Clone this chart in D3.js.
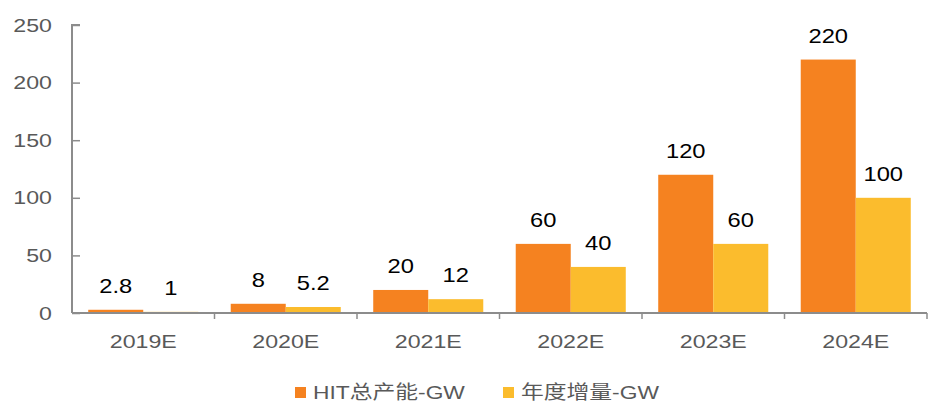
<!DOCTYPE html>
<html><head><meta charset="utf-8">
<script src="https://cdn.jsdelivr.net/npm/d3@7"></script>
<style>body{margin:0;background:#fff}svg{display:block}</style>
</head><body>
<svg id="c" width="929" height="405"></svg>
<script>
const categories = ["2019E","2020E","2021E","2022E","2023E","2024E"];
const seriesNames = ["HIT总产能-GW","年度增量-GW"];
const hitTotal = [2.8, 8, 20, 60, 120, 220];
const annualAdd = [1, 5.2, 12, 40, 60, 100];
const yTicks = [0, 50, 100, 150, 200, 250];
const labels = [["2.8","8","20","60","120","220"],["1","5.2","12","40","60","100"]];
const colors = ["#F58220", "#FBBC2D"];

const svg = d3.select("#c");
const m = {l:72, r:2};
const W = 929;
const x = d3.scaleBand().domain(categories).range([m.l, W - m.r]).paddingInner(0).paddingOuter(0);
const y = d3.scaleLinear().domain([0, 250]).range([313, 25]);
const x1 = d3.scaleBand().domain([0,1]).range([0, x.bandwidth()]).paddingInner(0).paddingOuter(0.295);
const font = "'Liberation Sans', Arial, sans-serif";
const axisColor = "#8C8C8C";

function stretchText(sel, px, py, sx) {
  sel.attr("transform", (d,i) => `translate(${px(d,i)},${py(d,i)}) scale(${sx},1)`);
}

// bars
[hitTotal, annualAdd].forEach((vals, s) => {
  svg.append("g").selectAll("rect").data(vals).join("rect")
    .attr("x", (d,i) => x(categories[i]) + x1(s))
    .attr("width", x1.bandwidth())
    .attr("y", d => y(d))
    .attr("height", d => y(0) - y(d))
    .attr("fill", colors[s]);
  const t = svg.append("g").selectAll("text").data(vals).join("text")
    .attr("text-anchor", "middle")
    .attr("font-family", font).attr("font-size", 21).attr("fill", "#000")
    .text((d,i) => labels[s][i]);
  stretchText(t, (d,i) => x(categories[i]) + x1(s) + x1.bandwidth()/2, d => y(d) - 17, 1.13);
});

// y axis
const ya = svg.append("g").attr("transform", `translate(${m.l},0)`)
  .call(d3.axisRight(y).tickValues(yTicks).tickSize(8).tickFormat(""));
ya.select(".domain").attr("stroke", axisColor).attr("stroke-width", 2).attr("d", `M8,${y(250)}H0V${y(0)}`);
ya.selectAll(".tick line").attr("stroke", axisColor).attr("stroke-width", 1.5);
const yt = svg.append("g").selectAll("text").data(yTicks).join("text")
  .attr("dy", "0.35em")
  .attr("text-anchor", "end").attr("font-family", font).attr("font-size", 19).attr("fill", "#595959")
  .text(d => d);
stretchText(yt, () => 52, d => y(d), 1.22);

// x axis
const xa = svg.append("g").attr("transform", `translate(0,${y(0)})`);
xa.append("line").attr("x1", m.l).attr("x2", W - m.r).attr("stroke", axisColor).attr("stroke-width", 2);
const bounds = categories.map(c => x(c)).concat([x(categories[categories.length-1]) + x.bandwidth()]);
xa.selectAll("line.t").data(bounds.slice(1)).join("line").attr("class","t")
  .attr("x1", d => d).attr("x2", d => d).attr("y1", 0).attr("y2", 6)
  .attr("stroke", axisColor).attr("stroke-width", 1.5);
const xt = xa.selectAll("text").data(categories).join("text")
  .attr("text-anchor", "middle").attr("font-family", font).attr("font-size", 19).attr("fill", "#595959")
  .text(d => d);
stretchText(xt, d => x(d) + x.bandwidth()/2, () => 35, 1.22);

// legend
const legX = [295, 503];
const lg = svg.append("g");
seriesNames.forEach((n, i) => {
  lg.append("rect").attr("x", legX[i]).attr("y", 387).attr("width", 11).attr("height", 11).attr("fill", colors[i]);
  lg.append("text").attr("transform", `translate(${legX[i] + 18},399) scale(1.2,1)`)
    .attr("font-family", "'Liberation Sans', 'Noto Sans CJK SC', sans-serif").attr("font-size", 19).attr("fill", "#595959")
    .text(n);
});
</script>
</body></html>
